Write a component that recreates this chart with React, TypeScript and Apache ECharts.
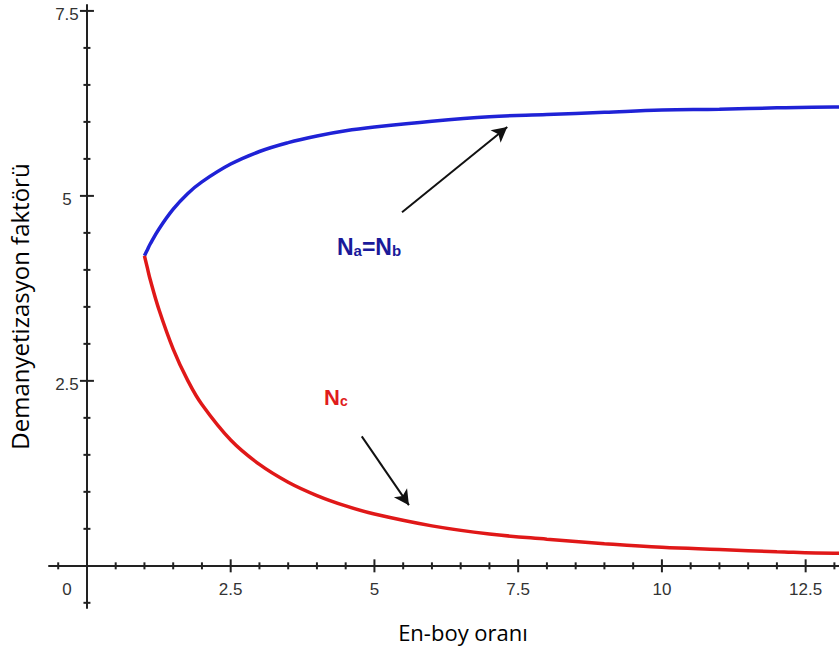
import React, { useEffect, useRef } from "react";
import * as echarts from "echarts";

// En-boy oranı (aspect ratio) and demagnetization factors
const ratio = [1, 1.05, 1.1, 1.25, 1.5, 1.75, 2, 2.5, 3, 3.5, 4, 4.5, 5, 6, 7, 8, 9, 10, 11, 12, 13, 13.1];
const naNbValues = [4.19, 4.27, 4.35, 4.55, 4.82, 5.03, 5.19, 5.43, 5.6, 5.72, 5.81, 5.88, 5.93, 6.01, 6.07, 6.1, 6.13, 6.16, 6.17, 6.19, 6.2, 6.2];
const ncValues = [4.19, 4.03, 3.87, 3.47, 2.93, 2.51, 2.18, 1.7, 1.37, 1.13, 0.95, 0.81, 0.7, 0.54, 0.43, 0.36, 0.3, 0.25, 0.22, 0.19, 0.17, 0.17];

const xMajorTicks = [2.5, 5, 7.5, 10, 12.5];
const xMinorTicks = [-0.5, 0.5, 1, 1.5, 2, 3, 3.5, 4, 4.5, 5.5, 6, 6.5, 7, 8, 8.5, 9, 9.5, 10.5, 11, 11.5, 12, 13];
const yMajorTicks = [2.5, 5, 7.5];
const yMinorTicks = [-0.5, 0.5, 1, 1.5, 2, 3, 3.5, 4, 4.5, 5.5, 6, 6.5, 7];
const xTickLabels = [0, 2.5, 5, 7.5, 10, 12.5];
const yTickLabels = [2.5, 5, 7.5];

// Arrow annotations (data coordinates)
const arrowNaNb = [[5.48, 4.78], [7.31, 5.93]];
const arrowNc = [[4.78, 1.75], [5.6, 0.82]];

export default function App() {
  const ref = useRef<HTMLDivElement>(null);
  useEffect(() => {
    const chart = echarts.init(ref.current!, undefined, { renderer: "svg" });
    const tickData = [
      ...xMajorTicks.map((v) => [v, 0, 1]),
      ...xMinorTicks.map((v) => [v, 0, 0]),
      ...yMajorTicks.map((v) => [0, v, 3]),
      ...yMinorTicks.map((v) => [0, v, 2]),
    ];
    const labelData = [
      ...xTickLabels.map((v) => [v, 0, 0]),
      ...yTickLabels.map((v) => [0, v, 1]),
    ];
    const axisColor = "#222";
    const labelFont = "17px 'Liberation Sans', Arial, sans-serif";
    const arrowMark = (pts: number[][]) => ({
      silent: true,
      symbol: ["none", "arrow"],
      symbolSize: [12, 15],
      label: { show: false },
      lineStyle: { color: "#111", width: 2, type: "solid" },
      data: [[{ coord: pts[0] }, { coord: pts[1] }]],
    });
    const option: any = {
      animation: false,
      backgroundColor: "#ffffff",
      grid: { left: 49, right: 0, top: 5, bottom: 38, containLabel: false, outerBoundsMode: "none" },
      xAxis: {
        type: "value",
        min: -0.66,
        max: 13.08,
        axisLine: { show: true, onZero: true, lineStyle: { color: axisColor, width: 2 } },
        axisTick: { show: false },
        axisLabel: { show: false },
        splitLine: { show: false },
        name: "En-boy oranı",
        nameLocation: "middle",
        nameGap: 13,
        nameTextStyle: { fontFamily: "Open Sans", fontSize: 22, color: "#000", padding: [0, 0, 0, 38] },
      },
      yAxis: {
        type: "value",
        min: -0.57,
        max: 7.58,
        axisLine: { show: true, onZero: true, lineStyle: { color: axisColor, width: 2 } },
        axisTick: { show: false },
        axisLabel: { show: false },
        splitLine: { show: false },
        name: "Demanyetizasyon faktörü",
        nameLocation: "middle",
        nameGap: 18,
        nameTextStyle: { fontFamily: "Open Sans", fontSize: 24, color: "#000" },
      },
      series: [
        {
          name: "Na=Nb",
          type: "line",
          data: ratio.map((r, i) => [r, naNbValues[i]]),
          showSymbol: false,
          smooth: 0.4,
          lineStyle: { color: "#1f22d6", width: 3.5 },
          itemStyle: { color: "#1f22d6" },
          silent: true,
          z: 3,
          markLine: arrowMark(arrowNaNb),
        },
        {
          name: "Nc",
          type: "line",
          data: ratio.map((r, i) => [r, ncValues[i]]),
          showSymbol: false,
          smooth: 0.4,
          lineStyle: { color: "#e01818", width: 3.5 },
          itemStyle: { color: "#e01818" },
          silent: true,
          z: 3,
          markLine: arrowMark(arrowNc),
        },
        {
          type: "custom",
          silent: true,
          clip: false,
          z: 4,
          data: tickData,
          renderItem: (params: any, api: any) => {
            const x = api.value(0);
            const y = api.value(1);
            const kind = api.value(2);
            const p = api.coord([x, y]);
            if (kind <= 1) {
              const len = kind === 1 ? 6.5 : 3.5;
              return {
                type: "line",
                shape: { x1: p[0], y1: p[1] - len, x2: p[0], y2: p[1] + len },
                style: { stroke: axisColor, lineWidth: 2 },
              };
            }
            const len = kind === 3 ? 7 : 3.5;
            return {
              type: "line",
              shape: { x1: p[0] - len, y1: p[1], x2: p[0] + len, y2: p[1] },
              style: { stroke: axisColor, lineWidth: 2 },
            };
          },
        },
        {
          type: "custom",
          silent: true,
          clip: false,
          z: 4,
          data: labelData,
          renderItem: (params: any, api: any) => {
            const x = api.value(0);
            const y = api.value(1);
            const kind = api.value(2);
            const p = api.coord([x, y]);
            if (kind === 0) {
              return {
                type: "text",
                style: {
                  text: String(x),
                  x: x === 0 ? p[0] - 20 : p[0],
                  y: p[1] + 24,
                  align: "center",
                  verticalAlign: "middle",
                  font: labelFont,
                  fill: "#333",
                },
              };
            }
            return {
              type: "text",
              style: {
                text: String(y),
                x: p[0] - 20,
                y: p[1] + 4,
                align: "center",
                verticalAlign: "middle",
                font: labelFont,
                fill: "#333",
              },
            };
          },
        },
      ],
      graphic: [
        {
          type: "text",
          left: 337,
          top: 235,
          silent: true,
          style: {
            text: "{n|N}{s|a}{n|=N}{s|b}",
            rich: {
              n: { fontFamily: "Liberation Sans", fontWeight: "bold", fontSize: 23, fill: "#1a1a9a", color: "#1a1a9a", verticalAlign: "bottom", lineHeight: 23 },
              s: { fontFamily: "Liberation Sans", fontWeight: "bold", fontSize: 15, fill: "#1a1a9a", color: "#1a1a9a", verticalAlign: "bottom", lineHeight: 11 },
            },
          },
        },
        {
          type: "text",
          left: 324,
          top: 386,
          silent: true,
          style: {
            text: "{n|N}{s|c}",
            rich: {
              n: { fontFamily: "Liberation Sans", fontWeight: "bold", fontSize: 22, fill: "#e01c1c", color: "#e01c1c", verticalAlign: "bottom", lineHeight: 22 },
              s: { fontFamily: "Liberation Sans", fontWeight: "bold", fontSize: 14, fill: "#e01c1c", color: "#e01c1c", verticalAlign: "bottom", lineHeight: 11 },
            },
          },
        },
      ],
    };
    chart.setOption(option);
    return () => chart.dispose();
  }, []);
  return (
    <div
      ref={ref}
      style={{ position: "fixed", left: 0, top: 0, width: 839, height: 646, background: "#fff" }}
    />
  );
}
